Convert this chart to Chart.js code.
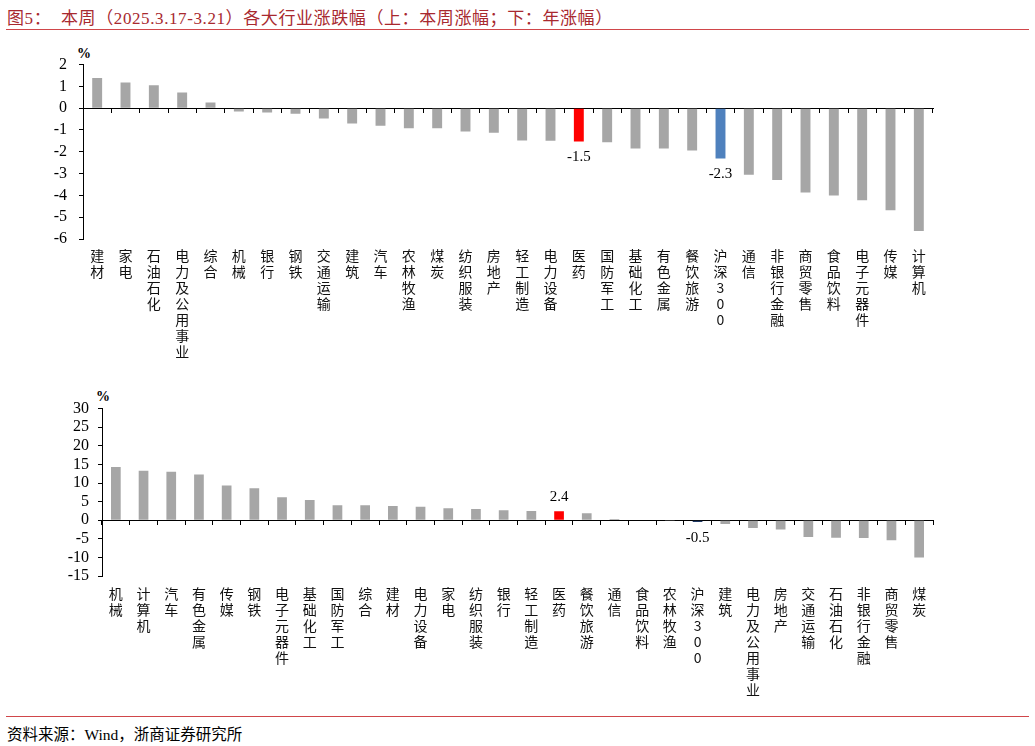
<!DOCTYPE html>
<html>
<head>
<meta charset="utf-8">
<script src="https://cdn.jsdelivr.net/npm/chart.js@4.4.1/dist/chart.umd.min.js"></script>
<style>
  body { margin: 0; width: 1035px; height: 746px; background: #fff; position: relative; overflow: hidden;
         font-family: "Liberation Serif", "Noto Sans CJK SC", serif; }
  .title { position: absolute; left: 7px; top: 4px; font-size: 17px; letter-spacing: 0.6px; color: #a8292f; white-space: pre; }
  .rule { position: absolute; left: 6px; right: 6px; height: 1px; background: #d0464a; }
  .unit { position: absolute; font-size: 14px; font-weight: bold; }
  .source { position: absolute; left: 7px; top: 722px; font-size: 15.5px; color: #000; }
  canvas { position: absolute; left: 0; }
</style>
</head>
<body>
<div class="title">图5：  本周（2025.3.17-3.21）各大行业涨跌幅（上：本周涨幅；下：年涨幅）</div>
<div class="rule" style="top:29px"></div>
<div class="unit" style="left:77px;top:46px">%</div>
<div class="unit" style="left:96px;top:389px">%</div>
<canvas id="weekChart" width="1035" height="340" style="top:40px"></canvas>
<canvas id="yearChart" width="1035" height="320" style="top:390px"></canvas>
<div class="rule" style="top:716px"></div>
<div class="source">资料来源：Wind，浙商证券研究所</div>

<script>
// 本周涨幅
const weekCategories = ['建材', '家电', '石油石化', '电力及公用事业', '综合', '机械', '银行', '钢铁', '交通运输', '建筑',
  '汽车', '农林牧渔', '煤炭', '纺织服装', '房地产', '轻工制造', '电力设备', '医药', '国防军工', '基础化工',
  '有色金属', '餐饮旅游', '沪深300', '通信', '非银行金融', '商贸零售', '食品饮料', '电子元器件', '传媒', '计算机'];
const weekValues = [1.38, 1.18, 1.05, 0.72, 0.26, -0.15, -0.2, -0.26, -0.47, -0.7,
  -0.81, -0.92, -0.92, -1.07, -1.13, -1.48, -1.49, -1.53, -1.57, -1.85,
  -1.85, -1.94, -2.31, -3.06, -3.3, -3.87, -4.0, -4.22, -4.68, -5.63];
const weekTicks = [-6, -5, -4, -3, -2, -1, 0, 1, 2];

// 年涨幅
const yearCategories = ['机械', '计算机', '汽车', '有色金属', '传媒', '钢铁', '电子元器件', '基础化工', '国防军工', '综合',
  '建材', '电力设备', '家电', '纺织服装', '银行', '轻工制造', '医药', '餐饮旅游', '通信', '食品饮料',
  '农林牧渔', '沪深300', '建筑', '电力及公用事业', '房地产', '交通运输', '石油石化', '非银行金融', '商贸零售', '煤炭'];
const yearValues = [14.3, 13.3, 13.0, 12.3, 9.3, 8.6, 6.2, 5.4, 4.05, 4.0,
  3.8, 3.6, 3.2, 3.0, 2.7, 2.5, 2.4, 1.9, 0.35, 0.1,
  -0.1, -0.5, -1.0, -2.1, -2.5, -4.5, -4.7, -4.8, -5.4, -10.0];
const yearTicks = [-15, -10, -5, 0, 5, 10, 15, 20, 25, 30];

const markedNames = ['医药', '沪深300'];

const valueLabels = {
  id: 'valueLabels',
  afterDatasetsDraw(chart, args, opts) {
    const ctx = chart.ctx;
    const meta = chart.getDatasetMeta(0);
    const values = chart.data.datasets[0].data;
    ctx.save();
    ctx.font = '15px "Liberation Serif"';
    ctx.fillStyle = '#000';
    ctx.textAlign = 'center';
    ctx.textBaseline = 'middle';
    opts.names.forEach((name, i) => {
      if (!markedNames.includes(name)) return;
      const bar = meta.data[i];
      const v = values[i];
      const y = v < 0 ? bar.y + 16 : bar.y - 14;
      ctx.fillText(v.toFixed(1), bar.x, y);
    });
    ctx.restore();
  }
};

function makeChart(id, names, values, ticks, cfg) {
  const colors = names.map(n => n === '医药' ? '#ff0000' : (n === '沪深300' ? cfg.hsColor : '#a6a6a6'));
  return new Chart(document.getElementById(id), {
    type: 'bar',
    data: {
      labels: names.map(n => n === '沪深300' ? ['沪', '深', '3', '0', '0'] : Array.from(n)),
      datasets: [{
        data: values,
        backgroundColor: colors,
        barPercentage: 0.35,
        categoryPercentage: 1
      }]
    },
    options: {
      responsive: false,
      animation: false,
      layout: { padding: { top: cfg.padTop, right: 102, left: 0, bottom: 0 } },
      plugins: {
        legend: { display: false },
        tooltip: { enabled: false },
        valueLabels: { names: names }
      },
      scales: {
        x: {
          offset: true,
          border: { display: false },
          grid: { display: false, drawTicks: false },
          ticks: {
            autoSkip: false,
            maxRotation: 0,
            padding: cfg.labelPad,
            color: '#111',
            font: { family: '"Noto Sans CJK SC"', size: 14, lineHeight: '16px' }
          },
          afterFit: s => { s.height = cfg.xHeight; }
        },
        x2: {
          type: 'category',
          position: { y: 0 },
          offset: true,
          border: { display: true, color: '#000', width: 1 },
          grid: { offset: true, drawOnChartArea: false, drawTicks: true, tickLength: 4, color: '#000' },
          ticks: { display: false }
        },
        y: {
          min: ticks[0],
          max: ticks[ticks.length - 1],
          afterBuildTicks: s => { s.ticks = ticks.map(v => ({ value: v })); },
          border: { display: true, color: '#000', width: 1 },
          grid: { drawOnChartArea: false, drawTicks: true, tickLength: 4, color: '#000' },
          ticks: {
            autoSkip: false,
            padding: cfg.yPad,
            color: '#000',
            font: { family: '"Liberation Serif"', size: 16 }
          },
          afterFit: s => { s.width = cfg.yWidth; }
        }
      }
    },
    plugins: [valueLabels]
  });
}

makeChart('weekChart', weekCategories, weekValues, weekTicks,
  { hsColor: '#4f81bd', padTop: 24.5, xHeight: 141, labelPad: 9, yPad: 12, yWidth: 83 });
makeChart('yearChart', yearCategories, yearValues, yearTicks,
  { hsColor: '#1f3864', padTop: 15.7, xHeight: 134, labelPad: 10, yPad: 9, yWidth: 102 });
</script>
</body>
</html>
